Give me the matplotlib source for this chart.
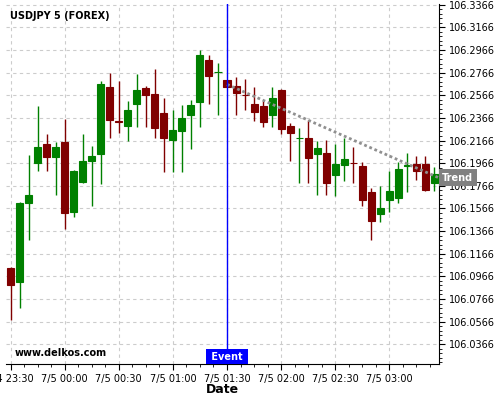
#USDJPY 5 minute candlestick chart with event marker and trend line
import matplotlib
matplotlib.use("Agg")
import matplotlib.pyplot as plt
import matplotlib.dates as mdates
from matplotlib.ticker import AutoMinorLocator, FuncFormatter
import numpy as np
import pandas as pd

#Candle data (5 minute bars)
times = pd.date_range("2018-07-04 23:30", periods=48, freq="5min")
opens = [106.1042, 106.0918, 106.1611, 106.1965, 106.2139, 106.2018, 106.2157, 106.1538,
         106.1803, 106.1989, 106.2045, 106.2635, 106.2336, 106.2290, 106.2487, 106.2626,
         106.2573, 106.2405, 106.2169, 106.2249, 106.2390, 106.2505, 106.2874, 106.2768,
         106.2697, 106.2644, 106.2570, 106.2485, 106.2467, 106.2390, 106.2608, 106.2290,
         106.2184, 106.2192, 106.2045, 106.2060, 106.1859, 106.1948, 106.1968, 106.1945,
         106.1715, 106.1514, 106.1638, 106.1656, 106.1945, 106.1959, 106.1959, 106.1794]
highs = [106.1045, 106.1620, 106.2039, 106.2473, 106.2225, 106.2157, 106.2358, 106.1905,
         106.2225, 106.2119, 106.2688, 106.2759, 106.2688, 106.2511, 106.2750, 106.2644,
         106.2800, 106.2541, 106.2434, 106.2482, 106.2526, 106.2968, 106.2924, 106.2853,
         106.2697, 106.2729, 106.2712, 106.2635, 106.2511, 106.2635, 106.2623, 106.2319,
         106.2275, 106.2343, 106.2163, 106.2172, 106.2133, 106.2187, 106.2110, 106.1974,
         106.1744, 106.1766, 106.1897, 106.1974, 106.2054, 106.2030, 106.2030, 106.1930]
lows = [106.0579, 106.0688, 106.1287, 106.1897, 106.1897, 106.1685, 106.1384, 106.1487,
        106.1795, 106.1591, 106.1782, 106.2187, 106.2231, 106.2166, 106.2287, 106.2287,
        106.2187, 106.1886, 106.1886, 106.1886, 106.2092, 106.2287, 106.2487, 106.2393,
        106.2638, 106.2393, 106.2437, 106.2340, 106.2284, 106.2287, 106.2225, 106.1986,
        106.1794, 106.1794, 106.1685, 106.1685, 106.1676, 106.1809, 106.1794, 106.1591,
        106.1287, 106.1449, 106.1535, 106.1611, 106.1715, 106.1818, 106.1718, 106.1718]
closes = [106.0894, 106.1617, 106.1688, 106.2113, 106.2018, 106.2113, 106.1523, 106.1900,
          106.1989, 106.2033, 106.2662, 106.2346, 106.2332, 106.2440, 106.2608, 106.2567,
          106.2275, 106.2187, 106.2263, 106.2361, 106.2476, 106.2918, 106.2735, 106.2770,
          106.2638, 106.2585, 106.2566, 106.2417, 106.2328, 106.2546, 106.2266, 106.2231,
          106.2190, 106.2010, 106.2104, 106.1788, 106.1959, 106.2007, 106.1965, 106.1638,
          106.1452, 106.1566, 106.1723, 106.1918, 106.1951, 106.1895, 106.1726, 106.1871]

#Event and trend
event_time = pd.Timestamp("2018-07-05 01:30")
trend_times = pd.to_datetime(["2018-07-05 01:30:00", "2018-07-05 03:27:30"])
trend_prices = [106.2662, 106.1836]
ytick_start, ytick_step = 106.0366, 0.02

x = mdates.date2num(times)
o = np.array(opens); c = np.array(closes); h = np.array(highs); l = np.array(lows)
up = c >= o
colors = np.where(up, "#008000", "#800000")
bw = 3.9 / 1440.  # body width in days

fig = plt.figure(figsize=(5, 4), dpi=100)
ax = fig.add_axes([0.012, 0.09, 0.866, 0.90])

ax.vlines(x, l, h, colors=colors, linewidth=1.0, zorder=3)
ax.bar(x, np.abs(c - o), bottom=np.minimum(o, c), width=bw, color=colors,
       edgecolor=colors, linewidth=0.8, zorder=4)

#Trend line
tx = mdates.date2num(trend_times)
ax.plot(tx, trend_prices, color="#909090", linewidth=2, linestyle=(0, (1, 1)), zorder=5)

#Event line
ex = mdates.date2num(event_time)
ax.axvline(ex, color="blue", linewidth=1, zorder=6)

half = 2.5 / 1440.
ax.set_xlim(x[0] - half, x[-1] + half)
ax.set_ylim(106.0192, 106.3372)

#Axes styling
for s in ["top", "left"]:
    ax.spines[s].set_visible(False)
ax.yaxis.tick_right()
yt = ytick_start + ytick_step * np.arange(16)
ax.set_yticks(yt)
ax.yaxis.set_major_formatter(FuncFormatter(lambda v, p: "%.4f" % v))
ax.yaxis.set_minor_locator(AutoMinorLocator(5))
ax.xaxis.set_major_locator(mdates.MinuteLocator(byminute=[0, 30]))
ax.xaxis.set_minor_locator(AutoMinorLocator(4))
def fmt_date(v, p):
    d = mdates.num2date(v)
    return "%d/%d %s" % (d.month, d.day, d.strftime("%H:%M"))
ax.xaxis.set_major_formatter(FuncFormatter(fmt_date))
ax.tick_params(axis="both", which="major", labelsize=7, length=4, width=0.8)
ax.tick_params(axis="both", which="minor", length=2, width=0.6)
ax.grid(True, which="major", color="#cccccc", linestyle=(0, (3, 3)), linewidth=0.8)
ax.set_axisbelow(True)
ax.set_xlabel("Date", fontsize=9, fontweight="bold", labelpad=-1)

#Texts
ax.text(0.009, 0.966, "USDJPY 5 (FOREX)", transform=ax.transAxes, fontsize=7,
        fontweight="bold", va="center", ha="left")
ax.text(0.021, 0.031, "www.delkos.com", transform=ax.transAxes, fontsize=7,
        fontweight="bold", va="center", ha="left")
ax.annotate(" Event ", xy=(ex, 0), xycoords=("data", "axes fraction"), ha="center", va="bottom",
            fontsize=7, fontweight="bold", color="white", xytext=(0, 1.5), textcoords="offset points",
            bbox=dict(boxstyle="square,pad=0.25", fc="blue", ec="none"), zorder=7)
ax.annotate("Trend", xy=(1, trend_prices[-1]), xycoords=("axes fraction", "data"), ha="left",
            va="center", fontsize=7, fontweight="bold", color="white", xytext=(2.4, 0),
            textcoords="offset points", annotation_clip=False,
            bbox=dict(boxstyle="square,pad=0.35", fc="#808080", ec="none"), zorder=7)

fig.savefig("out.png", dpi=100)
